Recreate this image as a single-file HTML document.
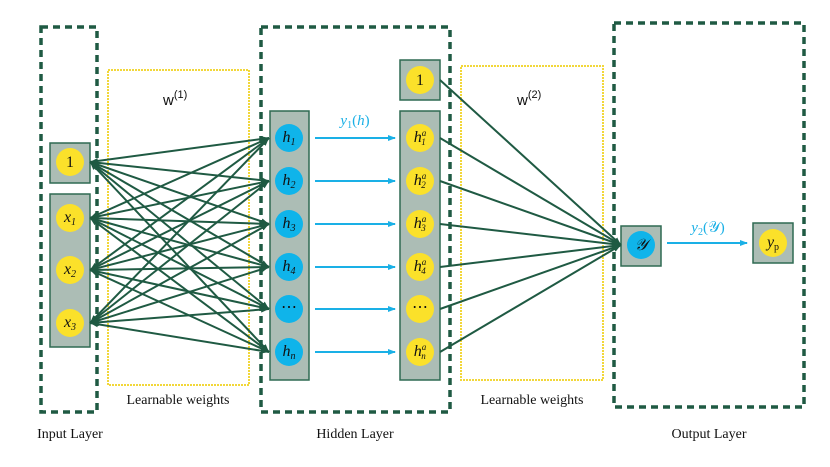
<!DOCTYPE html>
<html><head><meta charset="utf-8"><style>
html,body{margin:0;padding:0;background:#fff;}
svg{display:block}
.lbl{font-family:"Liberation Serif",serif;font-size:14px;fill:#111}
.m{font-family:"Liberation Serif",serif;font-style:italic;font-size:16px;fill:#111}
.c{font-family:"Liberation Serif",serif;font-style:italic;fill:#1ab0e6;font-size:15px}
</style></head><body>
<svg width="830" height="467" viewBox="0 0 830 467" xmlns="http://www.w3.org/2000/svg">
<defs>
<marker id="ab" markerWidth="8" markerHeight="8" refX="7" refY="4" orient="auto" markerUnits="userSpaceOnUse"><path d="M0,1 L8,4 L0,7 Z" fill="#1ab0e6"/></marker>
<marker id="ag" markerWidth="8" markerHeight="7" refX="8" refY="3.5" orient="auto-start-reverse" markerUnits="userSpaceOnUse"><path d="M0,0.5 L8,3.5 L0,6.5 Z" fill="#1f5a43"/></marker>
</defs>
<g fill="none" stroke="#1f5a43" stroke-width="3.5" stroke-dasharray="7,5">
<rect x="41" y="27" width="56" height="385"/>
<rect x="261" y="27" width="189" height="385"/>
<rect x="614" y="23" width="190" height="384"/>
</g>
<g fill="none" stroke="#f2d73a" stroke-width="2" stroke-dasharray="2,1">
<rect x="108" y="70" width="141" height="315"/>
<rect x="461" y="66" width="142" height="314"/>
</g>
<g fill="#acbdb5" stroke="#2f6a52" stroke-width="1.5">
<rect x="50" y="143" width="40" height="40"/>
<rect x="50" y="194" width="40" height="153"/>
<rect x="270" y="111" width="39" height="269"/>
<rect x="400" y="60" width="40" height="40"/>
<rect x="400" y="111" width="40" height="269"/>
<rect x="621" y="226" width="40" height="40"/>
<rect x="753" y="223" width="40" height="40"/>
</g>
<g stroke="#1f5a43" stroke-width="2" marker-start="url(#ag)" marker-end="url(#ag)">
<line x1="90" y1="162" x2="269" y2="138"/><line x1="90" y1="162" x2="269" y2="181"/><line x1="90" y1="162" x2="269" y2="224"/><line x1="90" y1="162" x2="269" y2="267"/><line x1="90" y1="162" x2="269" y2="309"/><line x1="90" y1="162" x2="269" y2="352"/>
<line x1="90" y1="218" x2="269" y2="138"/><line x1="90" y1="218" x2="269" y2="181"/><line x1="90" y1="218" x2="269" y2="224"/><line x1="90" y1="218" x2="269" y2="267"/><line x1="90" y1="218" x2="269" y2="309"/><line x1="90" y1="218" x2="269" y2="352"/>
<line x1="90" y1="270" x2="269" y2="138"/><line x1="90" y1="270" x2="269" y2="181"/><line x1="90" y1="270" x2="269" y2="224"/><line x1="90" y1="270" x2="269" y2="267"/><line x1="90" y1="270" x2="269" y2="309"/><line x1="90" y1="270" x2="269" y2="352"/>
<line x1="90" y1="323" x2="269" y2="138"/><line x1="90" y1="323" x2="269" y2="181"/><line x1="90" y1="323" x2="269" y2="224"/><line x1="90" y1="323" x2="269" y2="267"/><line x1="90" y1="323" x2="269" y2="309"/><line x1="90" y1="323" x2="269" y2="352"/>
</g>
<g stroke="#1f5a43" stroke-width="2" marker-end="url(#ag)">
<line x1="440" y1="80" x2="621" y2="245"/><line x1="440" y1="138" x2="621" y2="245"/><line x1="440" y1="181" x2="621" y2="245"/><line x1="440" y1="224" x2="621" y2="245"/><line x1="440" y1="267" x2="621" y2="245"/><line x1="440" y1="309" x2="621" y2="245"/><line x1="440" y1="352" x2="621" y2="245"/>
</g>
<g stroke="#1ab0e6" stroke-width="2" marker-end="url(#ab)">
<line x1="315" y1="138" x2="395" y2="138"/><line x1="315" y1="181" x2="395" y2="181"/><line x1="315" y1="224" x2="395" y2="224"/><line x1="315" y1="267" x2="395" y2="267"/><line x1="315" y1="309" x2="395" y2="309"/><line x1="315" y1="352" x2="395" y2="352"/>
<line x1="667" y1="243" x2="747" y2="243"/>
</g>
<g fill="#fbe12a">
<circle cx="70" cy="162" r="14"/><circle cx="70" cy="218" r="14"/><circle cx="70" cy="270" r="14"/><circle cx="70" cy="323" r="14"/>
<circle cx="420" cy="80" r="14"/><circle cx="420" cy="138" r="14"/><circle cx="420" cy="181" r="14"/><circle cx="420" cy="224" r="14"/><circle cx="420" cy="267" r="14"/><circle cx="420" cy="309" r="14"/><circle cx="420" cy="352" r="14"/>
<circle cx="773" cy="243" r="14"/>
</g>
<g fill="#0fb4ea">
<circle cx="289" cy="138" r="14"/><circle cx="289" cy="181" r="14"/><circle cx="289" cy="224" r="14"/><circle cx="289" cy="267" r="14"/><circle cx="289" cy="309" r="14"/><circle cx="289" cy="352" r="14"/>
<circle cx="641" cy="245" r="14"/>
</g>
<g class="m" text-anchor="middle">
<text x="70" y="167" style="font-style:normal">1</text>
<text x="420" y="85" style="font-style:normal">1</text>
<text x="70" y="222">x<tspan font-size="10" dy="3">1</tspan></text>
<text x="70" y="274">x<tspan font-size="10" dy="3">2</tspan></text>
<text x="70" y="327">x<tspan font-size="10" dy="3">3</tspan></text>
<text x="289" y="142">h<tspan font-size="10" dy="3">1</tspan></text>
<text x="289" y="185">h<tspan font-size="10" dy="3">2</tspan></text>
<text x="289" y="228">h<tspan font-size="10" dy="3">3</tspan></text>
<text x="289" y="271">h<tspan font-size="10" dy="3">4</tspan></text>
<text x="289" y="312" style="font-style:normal">⋯</text>
<text x="289" y="356">h<tspan font-size="10" dy="3">n</tspan></text>
<text x="420" y="142">h<tspan font-size="9" dy="-6">a</tspan><tspan font-size="9" dx="-5" dy="9">1</tspan></text>
<text x="420" y="185">h<tspan font-size="9" dy="-6">a</tspan><tspan font-size="9" dx="-5" dy="9">2</tspan></text>
<text x="420" y="228">h<tspan font-size="9" dy="-6">a</tspan><tspan font-size="9" dx="-5" dy="9">3</tspan></text>
<text x="420" y="271">h<tspan font-size="9" dy="-6">a</tspan><tspan font-size="9" dx="-5" dy="9">4</tspan></text>
<text x="420" y="312" style="font-style:normal">⋯</text>
<text x="420" y="356">h<tspan font-size="9" dy="-6">a</tspan><tspan font-size="9" dx="-5" dy="9">n</tspan></text>
<text x="641" y="250">𝒴</text>
<text x="773" y="247">y<tspan font-size="10" dy="3" style="font-style:normal">p</tspan></text>
</g>
<text class="c" x="355" y="125" text-anchor="middle">y<tspan font-size="10" dy="3" style="font-style:normal">1</tspan><tspan dy="-3" style="font-style:normal">(</tspan>h<tspan style="font-style:normal">)</tspan></text>
<text class="c" x="708" y="232" text-anchor="middle">y<tspan font-size="10" dy="3" style="font-style:normal">2</tspan><tspan dy="-3" style="font-style:normal">(𝒴)</tspan></text>
<text x="163" y="105" font-family="Liberation Sans,sans-serif" font-size="15" fill="#111">w<tspan font-size="11" dy="-7">(1)</tspan></text>
<text x="517" y="105" font-family="Liberation Sans,sans-serif" font-size="15" fill="#111">w<tspan font-size="11" dy="-7">(2)</tspan></text>
<g class="lbl" text-anchor="middle">
<text x="178" y="404">Learnable weights</text>
<text x="532" y="404">Learnable weights</text>
<text x="70" y="438">Input Layer</text>
<text x="355" y="438">Hidden Layer</text>
<text x="709" y="438">Output Layer</text>
</g>
</svg>
</body></html>
